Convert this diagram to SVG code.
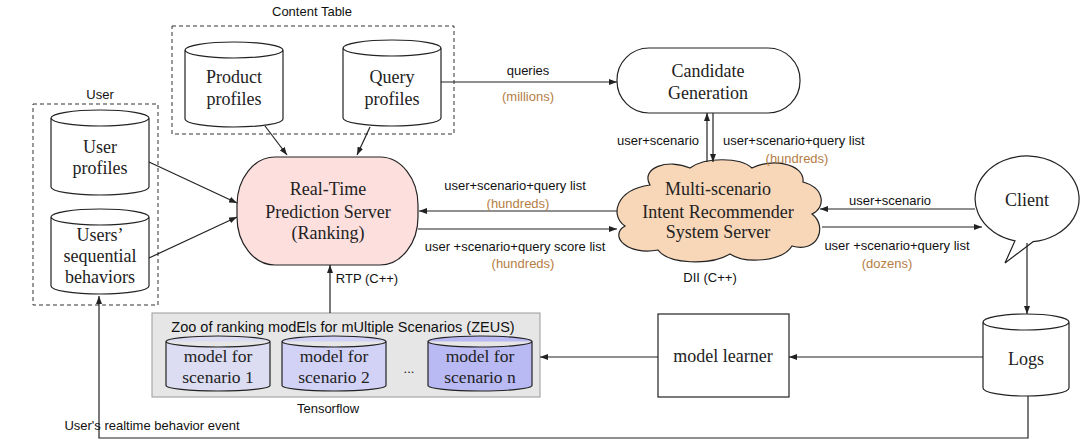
<svg xmlns="http://www.w3.org/2000/svg" width="1080" height="439" viewBox="0 0 1080 439">
<style>
.s{font-family:"Liberation Serif","Times New Roman",serif;font-size:18px;fill:#222;text-anchor:middle}
.m{font-family:"Liberation Serif","Times New Roman",serif;font-size:17.5px;fill:#222;text-anchor:middle}
.l{font-family:"Liberation Sans",Arial,sans-serif;font-size:13px;fill:#111;text-anchor:middle}
.o{font-family:"Liberation Sans",Arial,sans-serif;font-size:13px;fill:#b67d45;text-anchor:middle}
.cyl{fill:#fff;stroke:#222;stroke-width:1.2}
.dash{fill:none;stroke:#333;stroke-width:1;stroke-dasharray:4,3}
.ln{fill:none;stroke:#222;stroke-width:1.2}
.ar{fill:none;stroke:#222;stroke-width:1.2;marker-end:url(#ah)}
</style>
<defs>
<marker id="ah" markerWidth="8" markerHeight="6" refX="8" refY="3" orient="auto" markerUnits="userSpaceOnUse"><path d="M0,0 L8,3 L0,6 z" fill="#222"/></marker>
</defs>
<rect width="1080" height="439" fill="#fff"/>

<g id="content-table">
<text class="l" x="312" y="16">Content Table</text>
<rect class="dash" x="172" y="26" width="282" height="108"/>
</g>
<g id="product-profiles">
<path class="cyl" d="M185,50 A49,8 0 0 1 283,50 L283,119 A49,8 0 0 1 185,119 Z M185,50 A49,8 0 0 0 283,50"/>
<text class="s" x="234" y="83">Product</text><text class="s" x="234" y="105">profiles</text>
</g>
<g id="query-profiles">
<path class="cyl" d="M343,48 A49,8 0 0 1 441,48 L441,118 A49,8 0 0 1 343,118 Z M343,48 A49,8 0 0 0 441,48"/>
<text class="s" x="392" y="83">Query</text><text class="s" x="392" y="105">profiles</text>
</g>

<g id="user-group">
<text class="l" x="100" y="99">User</text>
<rect class="dash" x="33" y="104" width="125" height="201"/>
</g>
<g id="user-profiles">
<path class="cyl" d="M51,118 A49,8 0 0 1 149,118 L149,187 A49,8 0 0 1 51,187 Z M51,118 A49,8 0 0 0 149,118"/>
<text class="s" x="100" y="153">User</text><text class="s" x="100" y="174">profiles</text>
</g>
<g id="users-sequential">
<path class="cyl" d="M51,217 A49,8 0 0 1 149,217 L149,286 A49,8 0 0 1 51,286 Z M51,217 A49,8 0 0 0 149,217"/>
<text class="s" x="100" y="241">Users’</text><text class="s" x="100" y="262">sequential</text><text class="s" x="100" y="283">behaviors</text>
</g>

<g id="rtp-server">
<rect x="237" y="157" width="181" height="108" rx="38" ry="48" fill="#fde0de" stroke="#222" stroke-width="1.2"/>
<text class="s" x="328" y="195">Real-Time</text><text class="s" x="328" y="218">Prediction Server</text><text class="s" x="328" y="239">(Ranking)</text>
<text class="l" x="367" y="283">RTP (C++)</text>
</g>

<g id="candidate-generation">
<rect x="617" y="48" width="183" height="65" rx="32" ry="32" fill="#fff" stroke="#222" stroke-width="1.2"/>
<text class="s" x="708" y="77">Candidate</text><text class="s" x="708" y="99">Generation</text>
</g>

<g id="intent-recommender">
<path d="M650,185 C640,168 668,158 690,168 C705,157 740,157 752,168 C770,158 805,163 803,182 C825,188 826,208 812,214 C828,226 818,254 792,246 C782,262 745,264 730,254 C710,266 668,264 658,250 C628,256 608,236 625,226 C610,216 615,190 650,185 Z" fill="#f8d6b8" stroke="#222" stroke-width="1.2"/>
<text class="s" x="718" y="195">Multi-scenario</text><text class="s" x="718" y="218">Intent Recommender</text><text class="s" x="718" y="238">System Server</text>
<text class="l" x="710" y="282">DII (C++)</text>
</g>

<g id="client">
<path d="M1033,241.7 L1005,263 L1015,240.8 A52,43 0 1 1 1033,241.7 Z" fill="#fff" stroke="#222" stroke-width="1.2"/>
<text class="s" x="1027" y="206">Client</text>
</g>

<g id="logs">
<path class="cyl" d="M983,322 A43,8 0 0 1 1069,322 L1069,388 A43,8 0 0 1 983,388 Z M983,322 A43,8 0 0 0 1069,322"/>
<text class="s" x="1026" y="365">Logs</text>
</g>

<g id="model-learner">
<rect x="658" y="314" width="131" height="83" fill="#fff" stroke="#222" stroke-width="1.2"/>
<text class="s" x="723" y="362">model learner</text>
</g>

<g id="zeus">
<rect x="152" y="313" width="388" height="84" fill="#e6e6e6" stroke="#999" stroke-width="1"/>
<text x="343" y="332" style="font-family:'Liberation Sans',Arial,sans-serif;font-size:14.5px;fill:#111;text-anchor:middle">Zoo of ranking modEls for mUltiple Scenarios (ZEUS)</text>
<g id="model-1">
<path d="M166,341.5 A52,5.5 0 0 1 270,341.5 L270,385.5 A52,5.5 0 0 1 166,385.5 Z M166,341.5 A52,5.5 0 0 0 270,341.5" fill="#dcdcf2" stroke="#222" stroke-width="1.2"/>
<text class="m" x="218" y="362">model for</text><text class="m" x="218" y="383">scenario 1</text>
</g>
<g id="model-2">
<path d="M282,341.5 A52,5.5 0 0 1 386,341.5 L386,385.5 A52,5.5 0 0 1 282,385.5 Z M282,341.5 A52,5.5 0 0 0 386,341.5" fill="#d2d2f7" stroke="#222" stroke-width="1.2"/>
<text class="m" x="334" y="362">model for</text><text class="m" x="334" y="383">scenario 2</text>
</g>
<text class="l" x="409" y="373">...</text>
<g id="model-n">
<path d="M428,341.5 A52,5.5 0 0 1 532,341.5 L532,385.5 A52,5.5 0 0 1 428,385.5 Z M428,341.5 A52,5.5 0 0 0 532,341.5" fill="#b9b9f4" stroke="#222" stroke-width="1.2"/>
<text class="m" x="480" y="362">model for</text><text class="m" x="480" y="383">scenario n</text>
</g>
<text class="l" x="328" y="413">Tensorflow</text>
</g>

<g id="connectors">
<line class="ar" x1="265" y1="126" x2="287" y2="155"/>
<line class="ar" x1="370" y1="127" x2="357" y2="155"/>
<line class="ar" x1="149" y1="162" x2="237" y2="203"/>
<line class="ar" x1="149" y1="258" x2="237" y2="217"/>
<line class="ar" x1="441" y1="82" x2="617" y2="82"/>
<text class="l" x="528" y="75">queries</text><text class="o" x="528" y="101">(millions)</text>
<line class="ar" x1="707" y1="162" x2="707" y2="113"/>
<line class="ar" x1="713" y1="113" x2="713" y2="162"/>
<text class="l" x="658" y="145">user+scenario</text>
<text class="l" x="723" y="145" style="text-anchor:start">user+scenario+query list</text>
<text class="o" x="797" y="163">(hundreds)</text>
<line class="ar" x1="617" y1="211" x2="419" y2="211"/>
<text class="l" x="515" y="190">user+scenario+query list</text><text class="o" x="518" y="208">(hundreds)</text>
<line class="ar" x1="418" y1="229" x2="617" y2="229"/>
<text class="l" x="515" y="251">user +scenario+query score list</text><text class="o" x="523" y="268">(hundreds)</text>
<line class="ar" x1="975" y1="209" x2="820" y2="209"/>
<text class="l" x="890" y="205">user+scenario</text>
<line class="ar" x1="822" y1="227" x2="982" y2="227"/>
<text class="l" x="897" y="250">user +scenario+query list</text><text class="o" x="887" y="268">(dozens)</text>
<line class="ar" x1="1027" y1="243" x2="1027" y2="314"/>
<line class="ar" x1="983" y1="357" x2="789" y2="357"/>
<line class="ar" x1="658" y1="357" x2="540" y2="357"/>
<line class="ar" x1="330" y1="313" x2="330" y2="265"/>
<path class="ar" d="M1028,396 L1028,438 L99,438 L99,296"/>
<text class="l" x="152" y="430">User's realtime behavior event</text>
</g>
</svg>
